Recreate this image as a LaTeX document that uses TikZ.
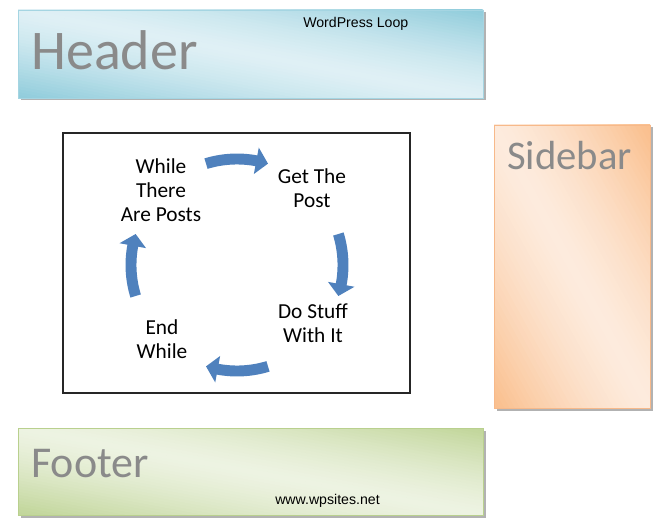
\documentclass[tikz,border=0pt]{standalone}
\usepackage{fontspec}
\setmainfont{Carlito}
\newfontfamily\calfont{Carlito}
\newfontfamily\arifont{Liberation Sans}
\definecolor{hdark}{HTML}{92CDDC}
\definecolor{hlight}{HTML}{DFF0F5}
\definecolor{hborder}{HTML}{A5D5E2}
\definecolor{sdark}{HTML}{FAC08F}
\definecolor{slight}{HTML}{FDEBDD}
\definecolor{sborder}{HTML}{F7B98A}
\definecolor{fdark}{HTML}{C2D69B}
\definecolor{flight}{HTML}{EDF3E2}
\definecolor{fborder}{HTML}{B9D08E}
\definecolor{labgray}{HTML}{8A8A8A}
\definecolor{arrowblue}{HTML}{4F81BD}
\tikzset{
  shadowbox/.style={fill=black!30},
  biglabel/.style={anchor=base west, inner sep=0pt, text=labgray},
  smalllabel/.style={anchor=base west, inner sep=0pt, font=\arifont\fontsize{10.6}{12}\selectfont, text=black},
  steptext/.style={align=center, inner sep=0pt, font=\calfont\fontsize{16}{18}\selectfont},
}
% diagonal two-sided gradient: dark at top-right and bottom-left corners, light along TL-BR diagonal
\newcommand\gradbox[6]{%
  \begin{scope}
  \clip (#1,#2) rectangle (#3,#4);
  \pgfmathsetmacro\gcx{(#1+#3)/2}
  \pgfmathsetmacro\gcy{(#2+#4)/2}
  \pgfmathsetmacro\ghx{(#3-#1)/2}
  \pgfmathsetmacro\ghy{(#4-#2)/2}
  \foreach \i in {-30,...,29}{
    \pgfmathsetmacro\ta{\i/30}
    \pgfmathsetmacro\tb{(\i+1.2)/30}
    \pgfmathsetmacro\pmix{min(100,(abs((\i+0.5)/30))^1.4*105)}
    \fill[#5!\pmix!#6]
      ({\gcx+\ta*\ghx-2*\ghx},{\gcy+\ta*\ghy+2*\ghy}) --
      ({\gcx+\ta*\ghx+2*\ghx},{\gcy+\ta*\ghy-2*\ghy}) --
      ({\gcx+\tb*\ghx+2*\ghx},{\gcy+\tb*\ghy-2*\ghy}) --
      ({\gcx+\tb*\ghx-2*\ghx},{\gcy+\tb*\ghy+2*\ghy}) -- cycle;
  }
  \end{scope}}
\newcommand\Ro{83.6pt}
\newcommand\Ri{75.4pt}
\newcommand\Rm{79.5pt}
\newcommand\Rho{89.6pt}
\newcommand\Rhi{69.4pt}
\newcommand\dang{6.5}
\newcommand\blockarc[2]{%
  \fill[arrowblue] (#1:\Ro) arc[start angle=#1, end angle=#2+\dang, radius=\Ro]
    -- (#2+\dang:\Rho) -- (#2:\Rm) -- (#2+\dang:\Rhi) -- (#2+\dang:\Ri)
    arc[start angle=#2+\dang, end angle=#1, radius=\Ri] -- cycle;}
\begin{document}
\begin{tikzpicture}[x=0.75pt,y=0.75pt]
\useasboundingbox (0,0) rectangle (660,522);
% header
\fill[shadowbox] (20.5,509.5) rectangle (485.5,421.5);
\gradbox{18}{424}{483}{512}{hdark}{hlight}
\draw[hborder, line width=0.6pt] (18,512) rectangle (483,424);
\node[biglabel, font=\calfont\fontsize{42}{48}\selectfont] (header) at (31,452) {Header};
\node[smalllabel] (loop) at (303,494.5) {WordPress Loop};
% sidebar
\fill[shadowbox] (496.5,394.5) rectangle (652.5,111.5);
\gradbox{494}{114}{650}{397}{sdark}{slight}
\draw[sborder, line width=0.6pt] (494,397) rectangle (650,114);
\node[biglabel, font=\calfont\fontsize{30.5}{36}\selectfont] (sidebar) at (507,352) {Sidebar};
% footer
\fill[shadowbox] (20.5,91.5) rectangle (485.5,4.5);
\gradbox{18}{7}{483}{94}{fdark}{flight}
\draw[fborder, line width=0.6pt] (18,94) rectangle (483,7);
\node[biglabel, font=\calfont\fontsize{33}{40}\selectfont] (footer) at (31,45) {Footer};
\node[smalllabel] (site) at (275,18) {www.wpsites.net};
% loop box
\draw[line width=0.9pt, draw=black!85] (63,389) rectangle (410,129);
\node[steptext] (while) at (161,332) {While\\There\\Are Posts};
\node[steptext] (get) at (312,334) {Get The\\Post};
\node[steptext] (do) at (313,199) {Do Stuff\\With It};
\node[steptext] (end) at (162,183) {End\\While};
\coordinate (c) at (237,257);
\begin{scope}[shift={(c)}]
\blockarc{107}{73}
\blockarc{17}{-17}
\blockarc{-73}{-107}
\blockarc{197}{163}
\end{scope}
\end{tikzpicture}
\end{document}
